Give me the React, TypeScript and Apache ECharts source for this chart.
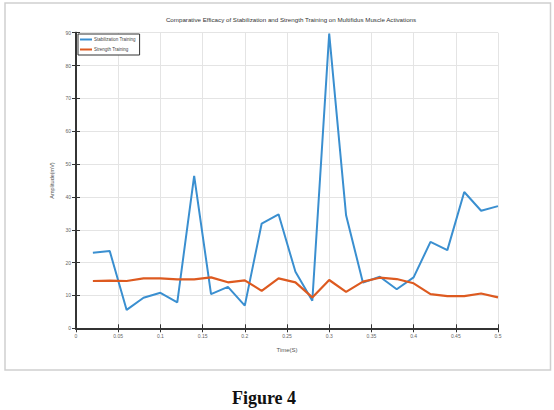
import React, { useEffect, useRef } from "react";
import * as echarts from "echarts";

const titleText = "Comparative Efficacy of Stabilization and Strength Training on Multifidus Muscle Activations";
const seriesNames = ["Stabilization Training", "Strength Training"];
const timeValues = [0.02, 0.04, 0.06, 0.08, 0.1, 0.12, 0.14, 0.16, 0.18, 0.2, 0.22, 0.24, 0.26, 0.28, 0.3, 0.32, 0.34, 0.36, 0.38, 0.4, 0.42, 0.44, 0.46, 0.48, 0.5];
const stabilization = [23.0, 23.5, 5.6, 9.3, 10.8, 7.9, 46.4, 10.4, 12.6, 6.9, 31.9, 34.7, 17.2, 8.4, 89.7, 34.4, 13.9, 15.7, 11.9, 15.5, 26.3, 23.8, 41.5, 35.8, 37.2];
const strength = [14.4, 14.5, 14.4, 15.2, 15.2, 14.9, 14.9, 15.5, 14.0, 14.6, 11.4, 15.2, 14.0, 9.4, 14.7, 11.1, 14.2, 15.4, 15.0, 13.7, 10.4, 9.8, 9.8, 10.6, 9.4];
const xLabel = "Time(S)";
const yLabel = "Amplitude(mV)";
const caption = "Figure 4";

export default function App() {
  const ref = useRef<HTMLDivElement>(null);
  useEffect(() => {
    if (!ref.current) return;
    const chart = echarts.init(ref.current, null, { renderer: "svg" });
    const axisLine = { show: true, lineStyle: { color: "#333333", width: 1.8 } };
    const tick = { show: true, inside: true, length: 4, lineStyle: { color: "#333333", width: 1 } };
    const tickLabel = { fontSize: 5, color: "#666", fontFamily: "Liberation Sans" };
    chart.setOption({
      animation: false,
      backgroundColor: "#ffffff",
      title: {
        text: titleText,
        left: 286,
        top: 11,
        textAlign: "center",
        textStyle: { fontSize: 6.2, fontWeight: "normal", color: "#333", fontFamily: "Liberation Sans" },
      },
      legend: {
        orient: "vertical",
        left: 78,
        top: 34,
        data: seriesNames,
        icon: "rect",
        itemWidth: 12,
        itemHeight: 2,
        itemGap: 5,
        padding: [3, 4, 3, 2],
        borderColor: "#333",
        borderWidth: 1,
        backgroundColor: "#fff",
        textStyle: { fontSize: 4.5, color: "#444", fontFamily: "Liberation Sans", padding: [0, 0, 0, -3] },
      },
      grid: { left: 76, top: 32.7, right: 56, bottom: 81.7, containLabel: false },
      xAxis: [
        {
          type: "value",
          min: 0,
          max: 0.5,
          interval: 0.05,
          position: "bottom",
          name: xLabel,
          nameLocation: "middle",
          nameGap: 19,
          nameTextStyle: { fontSize: 6, color: "#555", fontFamily: "Liberation Sans" },
          axisLine,
          axisTick: tick,
          axisLabel: { ...tickLabel, margin: 5 },
          splitLine: { show: true, lineStyle: { color: "#e4e4e4", width: 1 } },
        },
        {
          type: "value",
          min: 0,
          max: 0.5,
          interval: 0.05,
          position: "top",
          axisLine,
          axisTick: tick,
          axisLabel: { show: false },
          splitLine: { show: false },
        },
      ],
      yAxis: [
        {
          type: "value",
          min: 0,
          max: 90,
          interval: 10,
          position: "left",
          name: yLabel,
          nameLocation: "middle",
          nameGap: 14,
          nameTextStyle: { fontSize: 5.5, color: "#555", fontFamily: "Liberation Sans" },
          axisLine,
          axisTick: tick,
          axisLabel: { ...tickLabel, margin: 5 },
          splitLine: { show: true, lineStyle: { color: "#e4e4e4", width: 1 } },
        },
        {
          type: "value",
          min: 0,
          max: 90,
          interval: 10,
          position: "right",
          axisLine,
          axisTick: tick,
          axisLabel: { show: false },
          splitLine: { show: false },
        },
      ],
      series: [
        {
          name: seriesNames[0],
          type: "line",
          data: timeValues.map((t, i) => [t, stabilization[i]]),
          showSymbol: false,
          symbol: "none",
          lineStyle: { color: "#3a8fd0", width: 2 },
          itemStyle: { color: "#3a8fd0" },
          z: 3,
        },
        {
          name: seriesNames[1],
          type: "line",
          data: timeValues.map((t, i) => [t, strength[i]]),
          showSymbol: false,
          symbol: "none",
          lineStyle: { color: "#dd5a20", width: 2.2 },
          itemStyle: { color: "#dd5a20" },
          z: 4,
        },
      ],
      graphic: [
        {
          type: "rect",
          shape: { x: 5, y: 3, width: 545.5, height: 367 },
          style: { fill: "none", stroke: "#cfcfcf", lineWidth: 1.5 },
          silent: true,
          z: -1,
        },
        {
          type: "text",
          x: 264,
          y: 389,
          style: {
            text: caption,
            fontSize: 18,
            fontWeight: "bold",
            fontFamily: "Liberation Serif",
            fill: "#111",
            textAlign: "center",
            textVerticalAlign: "top",
          },
        },
      ],
    });
    return () => chart.dispose();
  }, []);
  return <div ref={ref} style={{ position: "fixed", left: 0, top: 0, width: 554, height: 410 }} />;
}
